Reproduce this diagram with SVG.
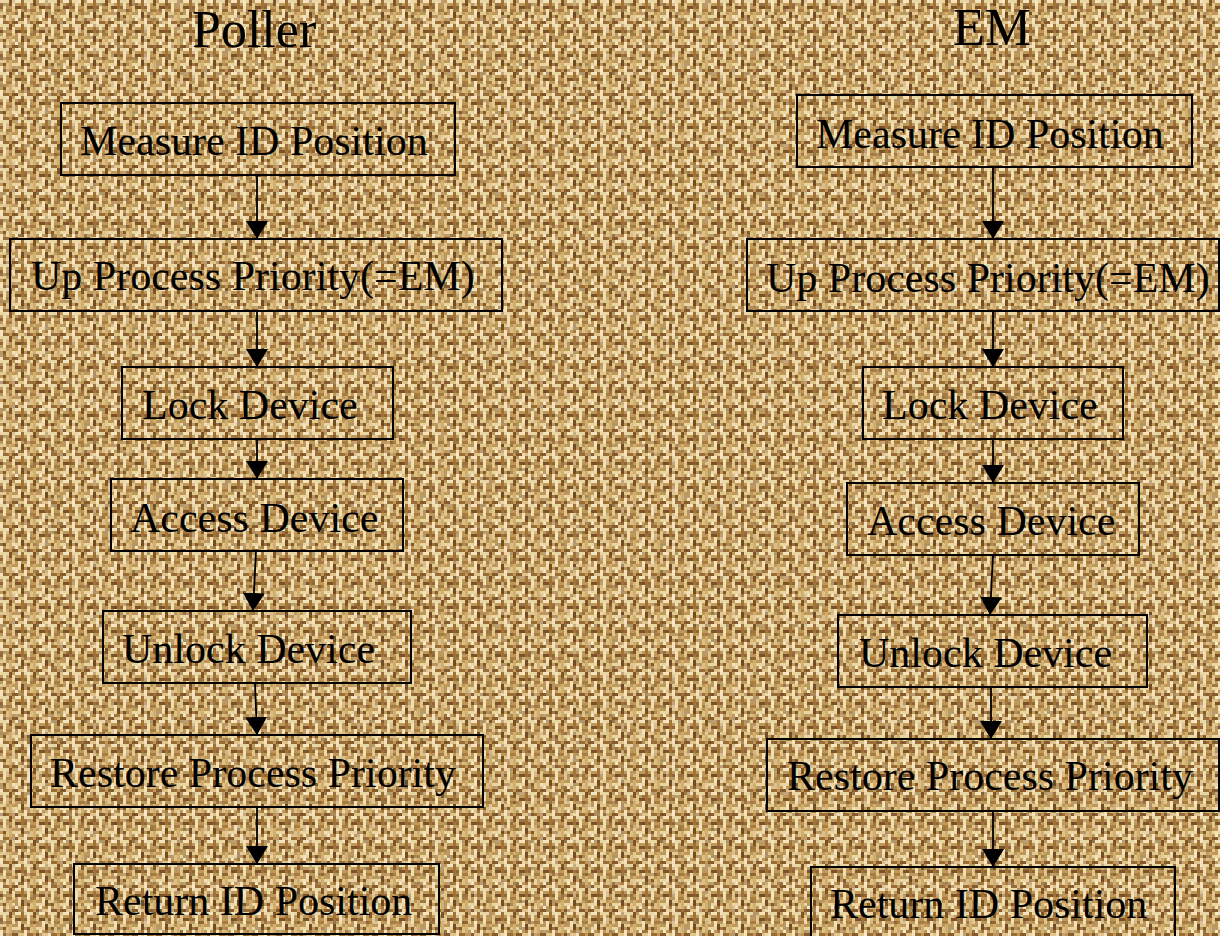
<svg xmlns="http://www.w3.org/2000/svg" width="1220" height="936" viewBox="0 0 1220 936">
<defs>
<pattern id="weave" width="24" height="24" patternUnits="userSpaceOnUse">
<rect width="24" height="24" fill="#bf9757"/>
<rect x="0" y="0" width="9" height="3" fill="#ead6a4"/>
<rect x="9" y="0" width="3" height="6" fill="#7e5526"/>
<rect x="15" y="0" width="6" height="3" fill="#f3e4c0"/>
<rect x="21" y="0" width="3" height="9" fill="#a07238"/>
<rect x="3" y="3" width="3" height="9" fill="#efdfb5"/>
<rect x="12" y="3" width="3" height="9" fill="#e0c68c"/>
<rect x="15" y="6" width="6" height="3" fill="#7a5228"/>
<rect x="0" y="6" width="3" height="3" fill="#946532"/>
<rect x="6" y="9" width="6" height="3" fill="#a97b40"/>
<rect x="18" y="9" width="3" height="6" fill="#f1e2bb"/>
<rect x="0" y="12" width="6" height="3" fill="#e2c991"/>
<rect x="9" y="12" width="3" height="9" fill="#cfae70"/>
<rect x="12" y="15" width="9" height="3" fill="#ead5a3"/>
<rect x="21" y="12" width="3" height="6" fill="#744c22"/>
<rect x="3" y="15" width="3" height="3" fill="#845a2c"/>
<rect x="0" y="18" width="3" height="6" fill="#f2e3bd"/>
<rect x="3" y="21" width="6" height="3" fill="#9a6d38"/>
<rect x="6" y="15" width="3" height="6" fill="#dcc086"/>
<rect x="12" y="21" width="6" height="3" fill="#855b2d"/>
<rect x="15" y="18" width="3" height="3" fill="#f4e7c6"/>
<rect x="18" y="21" width="6" height="3" fill="#dfc48c"/>
<rect x="21" y="18" width="3" height="3" fill="#a97a40"/>
</pattern>
<pattern id="noise" width="33" height="27" patternUnits="userSpaceOnUse">
<rect x="0" y="3" width="6" height="3" fill="#6e4620" opacity="0.45"/>
<rect x="12" y="0" width="3" height="6" fill="#fff3d6" opacity="0.45"/>
<rect x="24" y="9" width="6" height="3" fill="#6e4620" opacity="0.4"/>
<rect x="6" y="15" width="3" height="6" fill="#fff3d6" opacity="0.4"/>
<rect x="18" y="18" width="6" height="3" fill="#6e4620" opacity="0.45"/>
<rect x="27" y="21" width="3" height="6" fill="#fff3d6" opacity="0.4"/>
<rect x="15" y="12" width="3" height="3" fill="#5e3c1a" opacity="0.4"/>
</pattern>
<marker id="ah" markerUnits="userSpaceOnUse" markerWidth="18" markerHeight="22" refX="18" refY="11" orient="auto">
<path d="M0,0 L18,11 L0,22 z" fill="#000"/>
</marker>
</defs>
<style>
.box{fill:none;stroke:#000;stroke-width:2}
.lbl{font-family:"Liberation Serif","Times New Roman",serif;font-size:42px;fill:#000}
.ttl{font-family:"Liberation Serif","Times New Roman",serif;font-size:52px;fill:#000}
.arr{stroke:#000;stroke-width:1.8;fill:none;marker-end:url(#ah)}
</style>
<rect width="1220" height="936" fill="url(#weave)"/>
<rect width="1220" height="936" fill="url(#noise)"/>
<text class="ttl" x="192" y="47">Poller</text>
<text class="ttl" x="953" y="45">EM</text>
<g id="p1"><rect class="box" x="61" y="103" width="394" height="72"/><text class="lbl" x="80" y="155">Measure ID Position</text></g>
<g id="p2"><rect class="box" x="10" y="239" width="492" height="72"/><text class="lbl" x="31" y="290">Up Process Priority(=EM)</text></g>
<g id="p3"><rect class="box" x="122" y="367" width="271" height="72"/><text class="lbl" x="142" y="419">Lock Device</text></g>
<g id="p4"><rect class="box" x="111" y="479" width="292" height="72"/><text class="lbl" x="130" y="532">Access Device</text></g>
<g id="p5"><rect class="box" x="103" y="611" width="308" height="72"/><text class="lbl" x="122" y="663">Unlock Device</text></g>
<g id="p6"><rect class="box" x="31" y="735" width="452" height="72"/><text class="lbl" x="50" y="787">Restore Process Priority</text></g>
<g id="p7"><rect class="box" x="74" y="864" width="365" height="70"/><text class="lbl" x="95" y="915">Return ID Position</text></g>
<g id="e1"><rect class="box" x="797" y="95" width="395" height="72"/><text class="lbl" x="816" y="148">Measure ID Position</text></g>
<g id="e2"><rect class="box" x="747" y="239" width="472" height="72"/><text class="lbl" x="766" y="292">Up Process Priority(=EM)</text></g>
<g id="e3"><rect class="box" x="863" y="367" width="260" height="72"/><text class="lbl" x="882" y="419">Lock Device</text></g>
<g id="e4"><rect class="box" x="847" y="483" width="292" height="72"/><text class="lbl" x="867" y="535">Access Device</text></g>
<g id="e5"><rect class="box" x="838" y="615" width="309" height="72"/><text class="lbl" x="859" y="667">Unlock Device</text></g>
<g id="e6"><rect class="box" x="767" y="739" width="452" height="72"/><text class="lbl" x="787" y="790">Restore Process Priority</text></g>
<g id="e7"><rect class="box" x="811" y="867" width="364" height="80"/><text class="lbl" x="830" y="918">Return ID Position</text></g>
<g id="connectors">
<line class="arr" x1="257" y1="175" x2="257" y2="239"/>
<line class="arr" x1="257" y1="311" x2="257" y2="367"/>
<line class="arr" x1="257" y1="439" x2="257" y2="479"/>
<line class="arr" x1="256" y1="551" x2="253" y2="611"/>
<line class="arr" x1="255" y1="683" x2="257" y2="735"/>
<line class="arr" x1="257" y1="807" x2="257" y2="864"/>
<line class="arr" x1="993" y1="167" x2="993" y2="239"/>
<line class="arr" x1="993" y1="311" x2="993" y2="367"/>
<line class="arr" x1="993" y1="439" x2="993" y2="483"/>
<line class="arr" x1="993" y1="555" x2="990" y2="615"/>
<line class="arr" x1="991" y1="687" x2="991" y2="739"/>
<line class="arr" x1="993" y1="811" x2="993" y2="867"/>
</g>
</svg>
